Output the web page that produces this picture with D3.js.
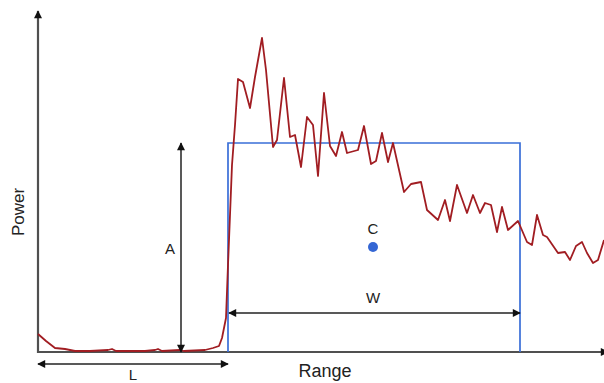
<!DOCTYPE html>
<html lang="en">
<head>
<meta charset="UTF-8">
<title>Power vs Range</title>
<script src="https://d3js.org/d3.v7.min.js"></script>
<style>
  body { margin: 0; background: #fff; }
  .signal { fill: none; stroke: #a11d22; stroke-width: 1.8px; stroke-linejoin: round; }
  .axis-line { stroke: #505050; stroke-width: 2.2px; }
  .dim { stroke: #222; stroke-width: 1.5px; }
  .box { fill: none; stroke: #3a6fd8; stroke-width: 1.7px; }
  .lbl { font-family: "Liberation Sans", Arial, sans-serif; fill: #222; }
</style>
</head>
<body>
<div id="chart"></div>
<script>
// signal trace: range offset and received power (arbitrary units)
var rangeVals = [0, 8, 17, 27, 37, 52, 70, 74, 78, 107, 117, 120, 124, 142, 146, 167, 175, 181, 184, 188, 190, 194, 197, 200,
  205, 212, 217, 224, 228, 235, 239, 246, 252, 257, 263, 269, 275, 280, 286, 292, 298, 304, 309, 320, 326, 333, 338,
  344, 350, 355, 366, 373, 383, 389, 400, 407, 412, 419, 429, 435, 442, 447, 453, 459, 464, 470, 480, 489, 494, 499,
  505, 509, 520, 527, 532, 538, 544, 549, 555, 560, 566];
var powerVals = [18, 11, 4, 3, 1, 1, 2, 3, 1, 1, 2, 3, 1, 2, 1, 2, 4, 6, 14, 34, 87, 187, 227, 273,
  270, 244, 275, 314, 282, 205, 212, 274, 215, 217, 185, 235, 227, 176, 259, 206, 196, 220, 199, 202, 226, 188, 191,
  219, 190, 209, 160, 168, 170, 142, 132, 152, 131, 167, 139, 157, 139, 149, 147, 120, 145, 122, 131, 110, 107, 137,
  117, 115, 99, 100, 92, 106, 110, 99, 89, 92, 112];

// target window: start L, width W, amplitude A, centre C
var boxStart = 190, boxEnd = 482, boxAmp = 209;
var centre = { range: 335, power: 105 };
var labels = { x: "Range", y: "Power", amp: "A", width: "W", lead: "L", centre: "C" };

var width = 604, height = 383;
var margin = { top: 12, right: 0, bottom: 31, left: 38 };

var svg = d3.select("#chart").append("svg")
  .attr("width", width)
  .attr("height", height);

var x = d3.scaleLinear().domain([0, 566]).range([margin.left, width - margin.right]);
var y = d3.scaleLinear().domain([0, 340]).range([height - margin.bottom, margin.top]);

var defs = svg.append("defs");
defs.append("marker")
  .attr("id", "head")
  .attr("viewBox", "0 0 10 10")
  .attr("refX", 9).attr("refY", 5)
  .attr("markerWidth", 10).attr("markerHeight", 8)
  .attr("markerUnits", "userSpaceOnUse")
  .attr("orient", "auto-start-reverse")
  .append("path").attr("d", "M0,0 L10,5 L0,10 z").attr("fill", "#111");

// axes
svg.append("line").attr("class", "axis-line")
  .attr("x1", x(0)).attr("y1", y(0)).attr("x2", x(566) + 4).attr("y2", y(0))
  .attr("marker-end", "url(#head)");
svg.append("line").attr("class", "axis-line")
  .attr("x1", x(0)).attr("y1", y(0) + 1).attr("x2", x(0)).attr("y2", y(340) - 1)
  .attr("marker-end", "url(#head)");

// blue window
var boxPath = d3.path();
boxPath.moveTo(x(boxStart), y(0));
boxPath.lineTo(x(boxStart), y(boxAmp));
boxPath.lineTo(x(boxEnd), y(boxAmp));
boxPath.lineTo(x(boxEnd), y(0));
svg.append("path").attr("class", "box").attr("d", boxPath.toString());

// signal
var data = rangeVals.map((r, i) => ({ range: r, power: powerVals[i] }));
var line = d3.line().x(d => x(d.range)).y(d => y(d.power));
svg.append("path").datum(data).attr("class", "signal").attr("d", line);

// dimension arrows
var ampX = 143;
svg.append("line").attr("class", "dim")
  .attr("x1", x(ampX)).attr("y1", y(0)).attr("x2", x(ampX)).attr("y2", y(boxAmp))
  .attr("marker-start", "url(#head)").attr("marker-end", "url(#head)");
svg.append("line").attr("class", "dim")
  .attr("x1", x(boxStart) + 1).attr("y1", y(39)).attr("x2", x(boxEnd)).attr("y2", y(39))
  .attr("marker-start", "url(#head)").attr("marker-end", "url(#head)");
svg.append("line").attr("class", "dim")
  .attr("x1", x(0)).attr("y1", y(0) + 12).attr("x2", x(boxStart)).attr("y2", y(0) + 12)
  .attr("marker-start", "url(#head)").attr("marker-end", "url(#head)");

// centre point
svg.append("circle")
  .attr("cx", x(centre.range)).attr("cy", y(centre.power)).attr("r", 5)
  .attr("fill", "#3466d4");

// labels
svg.append("text").attr("class", "lbl").attr("x", x(centre.range)).attr("y", y(centre.power) - 13)
  .attr("text-anchor", "middle").attr("font-size", 15).text(labels.centre);
svg.append("text").attr("class", "lbl").attr("x", x(ampX) - 11).attr("y", y(98))
  .attr("text-anchor", "middle").attr("font-size", 15).text(labels.amp);
svg.append("text").attr("class", "lbl").attr("x", x(centre.range)).attr("y", y(49))
  .attr("text-anchor", "middle").attr("font-size", 15).text(labels.width);
svg.append("text").attr("class", "lbl").attr("x", x(95)).attr("y", y(0) + 28)
  .attr("text-anchor", "middle").attr("font-size", 15).text(labels.lead);
svg.append("text").attr("class", "lbl").attr("x", x(287)).attr("y", y(0) + 25)
  .attr("text-anchor", "middle").attr("font-size", 18).text(labels.x);
svg.append("text").attr("class", "lbl")
  .attr("transform", `translate(${x(0) - 14},${y(140)}) rotate(-90)`)
  .attr("text-anchor", "middle").attr("font-size", 17).text(labels.y);
</script>
</body>
</html>
